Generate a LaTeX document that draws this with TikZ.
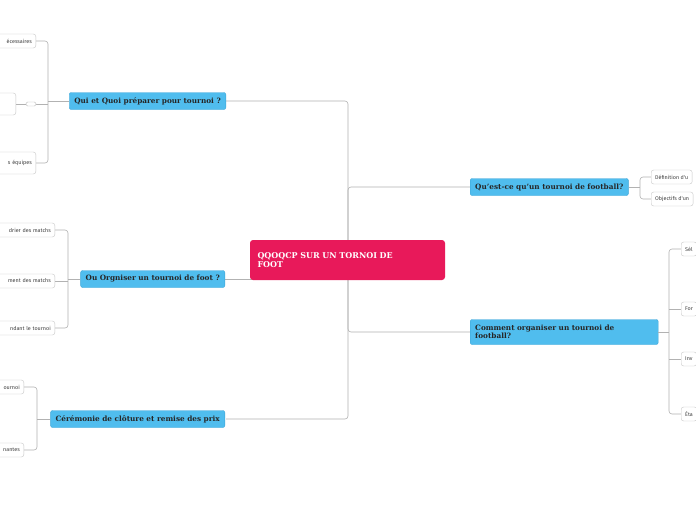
\documentclass[tikz,border=0pt]{standalone}
\usepackage{fontspec}
\setmainfont{DejaVu Serif}
\newfontfamily\leaffont{Fira Sans}
\begin{document}
\begin{tikzpicture}[x=1pt,y=-1pt,
  conn/.style={draw=black!30,line width=0.6pt,rounded corners=3pt},
  branch/.style={fill={rgb,255:red,80;green,189;blue,238},draw={rgb,255:red,60;green,165;blue,215},line width=0.4pt,rounded corners=2pt,font=\bfseries\fontsize{7.3}{8}\selectfont,text=black!85,inner xsep=5pt,minimum height=17pt,align=left},
  leaf/.style={draw=black!22,fill=white,rounded corners=2.5pt,font=\leaffont\fontsize{5.4}{6}\selectfont,text=black!75,inner xsep=4pt,minimum height=14pt},
  lleaf/.style={leaf,anchor=east,minimum width=90pt,align=right,text width=82pt},
  centr/.style={fill={rgb,255:red,232;green,25;blue,90},rounded corners=3pt,text=white,font=\bfseries\fontsize{8}{9.5}\selectfont,align=left,text width=180pt,minimum width=195pt,minimum height=40pt,inner xsep=7pt}]
\useasboundingbox (0,0) rectangle (696,520);
\clip (0,0) rectangle (696,520);
\fill[white] (0,0) rectangle (696,520);
\draw[conn] (226,101) -- (348,101) -- (348,419) -- (226,419);
\draw[conn] (225,279) -- (348,279);
\draw[conn] (470,187) -- (348,187) -- (348,332) -- (470,332);
\node[centr] (c) at (347.5,260) {QQOQCP SUR UN TORNOI DE\\FOOT};
\node[branch,anchor=east] (b1) at (226,101) {Qui et Quoi préparer pour tournoi ?};
\node[branch,anchor=east] (b2) at (225,279) {Ou Orgniser un tournoi de foot ?};
\node[branch,anchor=east] (b3) at (225,419) {Cérémonie de clôture et remise des prix};
\node[branch,anchor=west] (b4) at (470,187) {Qu'est-ce qu'un tournoi de football?};
\node[branch,anchor=west,minimum height=25pt,text width=178pt] (b5) at (470,332) {Comment organiser un tournoi de\\football?};
% left group 1
\draw[conn] (b1.west) -- (48,101);
\draw[conn] (36,41) -- (48,41) -- (48,163) -- (36,163);
\draw[conn] (16,104) -- (48,104);
\node[lleaf] (l11) at (36,41) {écessaires};
\node[leaf,anchor=east,minimum height=22pt,minimum width=60pt] (l12) at (16,104) {};
\node[draw=black!25,fill=white,rounded corners=1.5pt,minimum width=10pt,minimum height=4pt,inner sep=0pt] (l12b) at (31,104) {};
\node[lleaf,minimum height=22pt] (l13) at (36,163) {s équipes};
% left group 2
\draw[conn] (b2.west) -- (68,279);
\draw[conn] (55,230) -- (68,230) -- (68,328) -- (55,328);
\draw[conn] (55,281) -- (68,281);
\node[lleaf] (l21) at (55,230) {drier des matchs};
\node[lleaf] (l22) at (55,281) {ment des matchs};
\node[lleaf] (l23) at (55,328) {ndant le tournoi};
% left group 3
\draw[conn] (b3.west) -- (37,419);
\draw[conn] (24,387) -- (37,387) -- (37,450) -- (24,450);
\node[lleaf] (l31) at (24,387) {ournoi};
\node[lleaf] (l32) at (24,450) {nantes};
% right group 1
\draw[conn] (b4.east) -- (640,187);
\draw[conn] (651,177) -- (640,177) -- (640,199) -- (651,199);
\node[leaf,anchor=west] (r11) at (651,177) {Définition d'u};
\node[leaf,anchor=west] (r12) at (651,199) {Objectifs d'un};
% right group 2
\draw[conn] (b5.east) -- (669,332);
\draw[conn] (681,249) -- (669,249) -- (669,414) -- (681,414);
\draw[conn] (669,309) -- (681,309);
\draw[conn] (669,359) -- (681,359);
\node[leaf,anchor=west] (r21) at (681,249) {Sél};
\node[leaf,anchor=west] (r22) at (681,309) {For};
\node[leaf,anchor=west] (r23) at (681,359) {Inv};
\node[leaf,anchor=west] (r24) at (681,414) {Éta};
\end{tikzpicture}
\end{document}
